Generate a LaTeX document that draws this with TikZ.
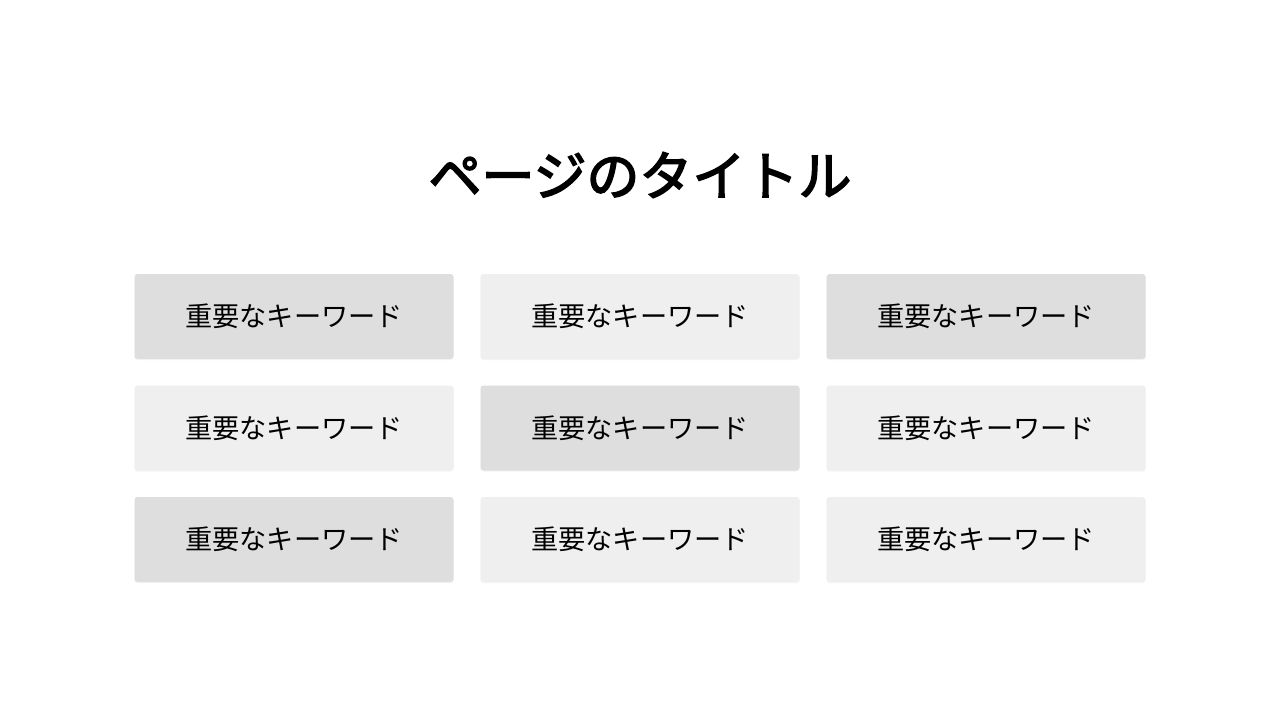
\documentclass[tikz,border=0pt]{standalone}
\usepackage{fontspec}
\setmainfont{Noto Sans CJK JP}
\newfontfamily\titlefont[FakeBold=3]{Noto Sans CJK JP}
\usetikzlibrary{positioning,shadows}

\definecolor{tiledark}{HTML}{DEDEDE}
\definecolor{tilelight}{HTML}{EFEFEF}

\begin{document}
\begin{tikzpicture}[
        tile/.style={minimum width=159.5pt, minimum height=42.5pt, inner sep=0pt, outer sep=0pt,
            rounded corners=1.5pt, font=\fontsize{13.6pt}{16pt}\selectfont,
            drop shadow={shadow xshift=0pt, shadow yshift=-0.6pt, opacity=0.08}},
        dark/.style={tile, fill=tiledark},
        light/.style={tile, fill=tilelight},
        node distance=13.25pt and 13.5pt]
    \useasboundingbox [fill=white] (0,0) rectangle (640pt,360pt);

    \node [font=\fontsize{26.5pt}{30pt}\titlefont] (title) at (320pt,272.5pt) {ページのタイトル};

    % row 1
    \node [dark]  (k11) at (147pt,201.75pt) {重要なキーワード};
    \node [light, right=of k11] (k12) {重要なキーワード};
    \node [dark,  right=of k12] (k13) {重要なキーワード};
    % row 2
    \node [light, below=of k11] (k21) {重要なキーワード};
    \node [dark,  below=of k12] (k22) {重要なキーワード};
    \node [light, below=of k13] (k23) {重要なキーワード};
    % row 3
    \node [dark,  below=of k21] (k31) {重要なキーワード};
    \node [light, below=of k22] (k32) {重要なキーワード};
    \node [light, below=of k23] (k33) {重要なキーワード};
\end{tikzpicture}
\end{document}
